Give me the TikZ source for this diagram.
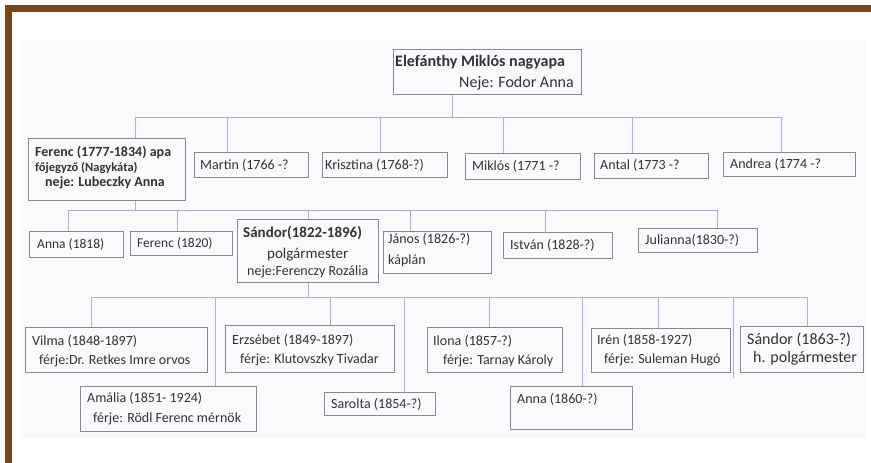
\documentclass[tikz,border=0pt]{standalone}
\usepackage{fontspec}
\setmainfont{Carlito}
\definecolor{framebrown}{RGB}{122,70,25}
\definecolor{linecol}{RGB}{172,172,228}
\definecolor{boxgray}{RGB}{135,135,150}
\definecolor{txt}{RGB}{50,50,55}
\definecolor{photo}{RGB}{250,250,252}
\tikzset{
  box/.style={draw=boxgray, line width=0.9pt, inner sep=0pt, anchor=north west},
  conn/.style={draw=linecol, line width=1pt},
  t/.style={anchor=base west, inner sep=0pt, text=txt, font=\fontsize{14}{16}\selectfont},
  tb/.style={anchor=base west, inner sep=0pt, text=txt, font=\fontsize{14}{16}\selectfont\bfseries},
}
\begin{document}
\begin{tikzpicture}[x=1pt,y=-1pt]
\useasboundingbox (0,0) rectangle (871,463);
\fill[white] (0,0) rectangle (871,463);
\fill[photo] (20,40) rectangle (866,438);
\fill[framebrown] (5,5) rectangle (871,12);
\fill[framebrown] (5,5) rectangle (12,463);

% boxes
\node[box, minimum width=188pt, minimum height=45pt] (top) at (393,49) {};
\node[box, minimum width=157pt, minimum height=62pt] (ferenc) at (28,138) {};
\node[box, minimum width=114pt, minimum height=25pt] (martin) at (194,152) {};
\node[box, minimum width=125pt, minimum height=25pt] (kriszt) at (322,152) {};
\node[box, minimum width=115pt, minimum height=26pt] (miklos) at (465,153) {};
\node[box, minimum width=114pt, minimum height=25pt] (antal) at (594,153) {};
\node[box, minimum width=132pt, minimum height=24pt] (andrea) at (723,152) {};
\node[box, minimum width=94pt, minimum height=26pt] (annaA) at (29,231) {};
\node[box, minimum width=102pt, minimum height=24pt] (ferencB) at (130,231) {};
\node[box, minimum width=141pt, minimum height=63pt] (sandor) at (237,219) {};
\node[box, minimum width=108pt, minimum height=42pt] (janos) at (383,231) {};
\node[box, minimum width=109pt, minimum height=26pt] (istvan) at (503,232) {};
\node[box, minimum width=119pt, minimum height=24pt] (julianna) at (638,228) {};
\node[box, minimum width=182pt, minimum height=45pt] (vilma) at (25,327) {};
\node[box, minimum width=169pt, minimum height=47pt] (erzsebet) at (225,325) {};
\node[box, minimum width=176pt, minimum height=45pt] (amalia) at (80,386) {};
\node[box, minimum width=111pt, minimum height=23pt] (sarolta) at (324,392) {};
\node[box, minimum width=135pt, minimum height=45pt] (ilona) at (427,327) {};
\node[box, minimum width=122pt, minimum height=43pt] (annaB) at (510,386) {};
\node[box, minimum width=139pt, minimum height=44pt] (iren) at (591,328) {};
\node[box, minimum width=123pt, minimum height=46pt] (sandorB) at (740,326) {};

% texts
\node[tb, font=\fontsize{16}{18}\selectfont\bfseries] at (395,66) {Elefánthy Miklós nagyapa};
\node[t, font=\fontsize{16}{18}\selectfont] at (459,87) {Neje: Fodor Anna};
\node[tb] at (35,156) {Ferenc (1777-1834) apa};
\node[tb, font=\fontsize{12.5}{14}\selectfont\bfseries] at (35,171) {főjegyző (Nagykáta)};
\node[tb] at (45,186) {neje: Lubeczky Anna};
\node[t] at (200,169) {Martin (1766 -?};
\node[t] at (325,169) {Krisztina (1768-?)};
\node[t] at (472,170) {Miklós (1771 -?};
\node[t] at (600,169) {Antal (1773 -?};
\node[t] at (730,168) {Andrea (1774 -?};
\node[t, font=\fontsize{13.5}{15}\selectfont] at (37,248) {Anna (1818)};
\node[t, font=\fontsize{13.5}{15}\selectfont] at (137,247) {Ferenc (1820)};
\node[tb, font=\fontsize{15}{17}\selectfont\bfseries] at (243,237) {Sándor(1822-1896)};
\node[t, font=\fontsize{15}{17}\selectfont] at (267,258) {polgármester};
\node[t] at (247,275) {neje:Ferenczy Rozália};
\node[t] at (388,243) {János (1826-?)};
\node[t] at (388,264) {káplán};
\node[t] at (510,249) {István (1828-?)};
\node[t] at (645,244) {Julianna(1830-?)};
\node[t] at (32,345) {Vilma (1848-1897)};
\node[t] at (39,364) {férje:Dr. Retkes Imre orvos};
\node[t] at (232,344) {Erzsébet (1849-1897)};
\node[t] at (240,363) {férje: Klutovszky Tivadar};
\node[t] at (87,402) {Amália (1851- 1924)};
\node[t] at (93,422) {férje: Rödl Ferenc mérnök};
\node[t] at (331,408) {Sarolta (1854-?)};
\node[t] at (433,345) {Ilona (1857-?)};
\node[t] at (443,364) {férje: Tarnay Károly};
\node[t] at (517,403) {Anna (1860-?)};
\node[t] at (597,344) {Irén (1858-1927)};
\node[t] at (604,363) {férje: Suleman Hugó};
\node[t, font=\fontsize{16}{18}\selectfont] at (747,344) {Sándor (1863-?)};
\node[t, font=\fontsize{16}{18}\selectfont] at (753,362) {h. polgármester};

% connectors, level 1
\coordinate (t0) at (452,117);
\coordinate (a1) at (135,117);
\coordinate (a2) at (227,117);
\coordinate (a3) at (380,117);
\coordinate (a4) at (503,117);
\coordinate (a5) at (632,117);
\coordinate (a6) at (781,117);
\draw[conn] (t0 |- top.south) -- (t0);
\draw[conn] (a1) -- (a6);
\draw[conn] (a1) -- (a1 |- ferenc.north);
\draw[conn] (a2) -- (a2 |- martin.north);
\draw[conn] (a3) -- (a3 |- kriszt.north);
\draw[conn] (a4) -- (a4 |- miklos.north);
\draw[conn] (a5) -- (a5 |- antal.north);
\draw[conn] (a6) -- (a6 |- andrea.north);

% level 2
\coordinate (fb) at (135,210);
\coordinate (b1) at (68,210);
\coordinate (b2) at (177,210);
\coordinate (b3) at (308,210);
\coordinate (b4) at (410,210);
\coordinate (b5) at (545,210);
\coordinate (b6) at (717,210);
\draw[conn] (fb |- ferenc.south) -- (fb);
\draw[conn] (b1) -- (b6);
\draw[conn] (b1) -- (b1 |- annaA.north);
\draw[conn] (b2) -- (b2 |- ferencB.north);
\draw[conn] (b3) -- (b3 |- sandor.north);
\draw[conn] (b4) -- (b4 |- janos.north);
\draw[conn] (b5) -- (b5 |- istvan.north);
\draw[conn] (b6) -- (b6 |- julianna.north);

% level 3
\coordinate (sb) at (308,297);
\coordinate (c1) at (91,297);
\coordinate (c2) at (215,297);
\coordinate (c3) at (330,297);
\coordinate (c4) at (404,297);
\coordinate (c5) at (489,297);
\coordinate (c6) at (582,297);
\coordinate (c7) at (658,297);
\coordinate (c8) at (733,297);
\coordinate (c9) at (807,297);
\coordinate (c8e) at (733,378);
\draw[conn] (sb |- sandor.south) -- (sb);
\draw[conn] (c1) -- (c9);
\draw[conn] (c1) -- (c1 |- vilma.north);
\draw[conn] (c2) -- (c2 |- amalia.north);
\draw[conn] (c3) -- (c3 |- erzsebet.north);
\draw[conn] (c4) -- (c4 |- sarolta.north);
\draw[conn] (c5) -- (c5 |- ilona.north);
\draw[conn] (c6) -- (c6 |- annaB.north);
\draw[conn] (c7) -- (c7 |- iren.north);
\draw[conn] (c8) -- (c8e);
\draw[conn] (c9) -- (c9 |- sandorB.north);
\end{tikzpicture}
\end{document}
